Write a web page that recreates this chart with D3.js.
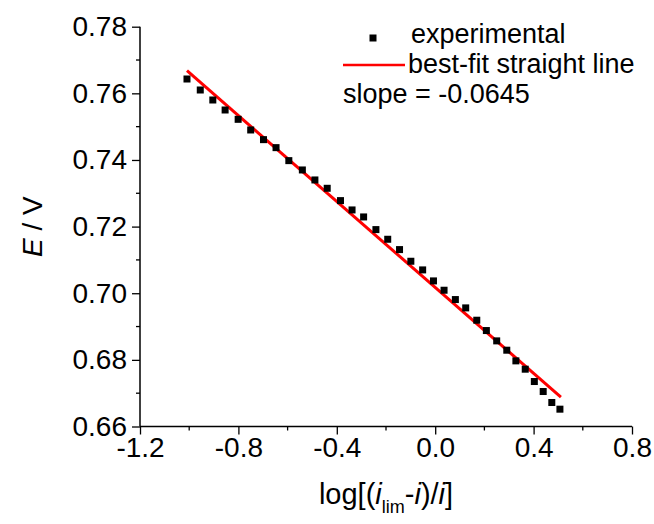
<!DOCTYPE html>
<html>
<head>
<meta charset="utf-8">
<script src="https://cdn.jsdelivr.net/npm/d3@7"></script>
<style>
  body{margin:0;background:#fff;}
  svg{display:block;font-family:"Liberation Sans",Arial,Helvetica,sans-serif;}
</style>
</head>
<body>
<svg width="654" height="524"></svg>
<script>
// experimental points
var logRatio=[-1.009,-0.955,-0.904,-0.854,-0.801,-0.750,-0.698,-0.647,-0.595,-0.540,-0.489,-0.439,-0.385,-0.338,
  -0.291,-0.241,-0.193,-0.145,-0.099,-0.051,-0.007,0.036,0.082,0.124,0.169,0.208,0.250,0.291,0.328,0.366,0.403,0.439,0.474,0.507];
var potential=[0.7643,0.7610,0.7580,0.7550,0.7522,0.7490,0.7461,0.7437,0.7398,0.7370,0.7340,0.7315,0.7278,0.7250,
  0.7229,0.7191,0.7162,0.7131,0.7096,0.7070,0.7037,0.7009,0.6981,0.6956,0.6919,0.6888,0.6857,0.6829,0.6797,0.6772,0.6735,0.6705,0.6672,0.6652];
// best-fit straight line end points
var fitX=[-1.009,0.511];
var fitY=[0.7668,0.6688];
var xTicks=[-1.2,-0.8,-0.4,0.0,0.4,0.8];
var yTicks=[0.66,0.68,0.70,0.72,0.74,0.76,0.78];
var xMinor=[-1.0,-0.6,-0.2,0.2,0.6];
var yMinor=[0.67,0.69,0.71,0.73,0.75,0.77];

var loc=d3.formatLocale({decimal:".",thousands:",",grouping:[3],currency:["",""],minus:"-"});

var svg=d3.select("svg");
var margin={top:26.7,left:140,right:22,bottom:97.5};
var plotWidth=654-margin.left-margin.right;
var plotHeight=524-margin.top-margin.bottom;

var x=d3.scaleLinear().domain([-1.2,0.8]).range([0,plotWidth]);
var y=d3.scaleLinear().domain([0.66,0.78]).range([plotHeight,0]);

var plot=svg.append("g").attr("transform","translate("+margin.left+","+margin.top+")");

// axes
var xAxis=d3.axisBottom(x).tickValues(xTicks).tickFormat(loc.format(".1f")).tickSize(8).tickPadding(3);
var xg=plot.append("g").attr("transform","translate(0,"+plotHeight+")").call(xAxis);
xg.selectAll("line.minor").data(xMinor).enter().append("line").attr("class","minor")
  .attr("x1",function(d){return x(d);}).attr("x2",function(d){return x(d);})
  .attr("y1",0).attr("y2",4).attr("stroke","#000").attr("stroke-width",1.3);

var yAxis=d3.axisLeft(y).tickValues(yTicks).tickFormat(loc.format(".2f")).tickSize(8).tickPadding(5);
var yg=plot.append("g").call(yAxis);
yg.selectAll("line.minor").data(yMinor).enter().append("line").attr("class","minor")
  .attr("y1",function(d){return y(d);}).attr("y2",function(d){return y(d);})
  .attr("x1",0).attr("x2",-4).attr("stroke","#000").attr("stroke-width",1.3);

plot.selectAll(".domain").attr("stroke","#000").attr("stroke-width",1.5);
plot.selectAll(".tick line").attr("stroke","#000").attr("stroke-width",1.3);
plot.selectAll(".tick text").attr("font-size","28px").attr("fill","#000")
  .attr("font-family","'Liberation Sans',Arial,Helvetica,sans-serif");
xg.selectAll(".domain").attr("d","M0,0H"+plotWidth);
yg.selectAll(".domain").attr("d","M0,"+plotHeight+"V0");

// fit line
var fitData=fitX.map(function(v,i){return [v,fitY[i]];});
plot.append("path").datum(fitData)
  .attr("d",d3.line().x(function(d){return x(d[0]);}).y(function(d){return y(d[1]);}))
  .attr("stroke","#ff0000").attr("stroke-width",3).attr("fill","none");

// experimental squares
var pts=logRatio.map(function(v,i){return [v,potential[i]];});
var sq=7;
plot.selectAll("rect.pt").data(pts).enter().append("rect").attr("class","pt")
  .attr("x",function(d){return x(d[0])-sq/2;})
  .attr("y",function(d){return y(d[1])-sq/2;})
  .attr("width",sq).attr("height",sq).attr("fill","#000");

// legend
var lg=svg.append("g").attr("font-size","27px").attr("fill","#000");
lg.append("rect").attr("x",373-sq/2).attr("y",38-sq/2).attr("width",sq).attr("height",sq).attr("fill","#000");
lg.append("text").attr("x",411).attr("y",43).text("experimental");
lg.append("line").attr("x1",343).attr("x2",405).attr("y1",65).attr("y2",65).attr("stroke","#ff0000").attr("stroke-width",2.5);
lg.append("text").attr("x",408).attr("y",73).text("best-fit straight line");
lg.append("text").attr("x",343).attr("y",103).text("slope = -0.0645");

// axis titles
var xt=svg.append("text").attr("x",margin.left+plotWidth/2).attr("y",504)
  .attr("text-anchor","middle").attr("font-size","29px").attr("fill","#000");
xt.append("tspan").text("log[(");
xt.append("tspan").attr("font-style","italic").text("i");
xt.append("tspan").attr("font-size","18px").attr("dy",9).text("lim");
xt.append("tspan").attr("dy",-9).text("-");
xt.append("tspan").attr("font-style","italic").text("i");
xt.append("tspan").text(")/");
xt.append("tspan").attr("font-style","italic").text("i");
xt.append("tspan").text("]");

var yt=svg.append("text").attr("transform","translate(42,"+(margin.top+plotHeight/2)+")rotate(-90)")
  .attr("text-anchor","middle").attr("font-size","28px").attr("fill","#000");
yt.append("tspan").attr("font-style","italic").text("E");
yt.append("tspan").text(" / V");
</script>
</body>
</html>
